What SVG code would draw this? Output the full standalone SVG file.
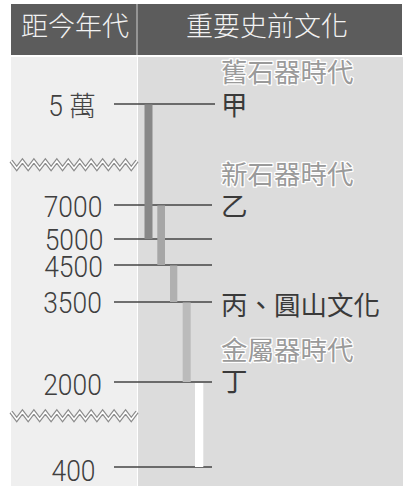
<svg xmlns="http://www.w3.org/2000/svg" width="406" height="486" viewBox="0 0 406 486">
<style>
.hdr{font-family:"Noto Sans CJK TC","Noto Sans CJK SC",sans-serif;font-size:27px;fill:#f2f2f2;font-weight:300}
.num{font-family:Roboto,"Liberation Sans",sans-serif;font-size:30px;font-weight:300;fill:#3f3f3f;text-anchor:middle}
.cjk{font-family:"Noto Sans CJK TC","Noto Sans CJK SC",sans-serif;font-size:26.5px;fill:#3a3a3a}
.era{font-family:"Noto Sans CJK TC","Noto Sans CJK SC",sans-serif;font-size:26.5px;fill:#9a9a9a;stroke:#fff;stroke-width:2.5;paint-order:stroke;stroke-linejoin:round}
.tick{stroke:#444;stroke-width:1.5;fill:none}
.zz1{fill:none;stroke:#8c8c8c;stroke-width:3.8;stroke-linejoin:miter}
.zz2{fill:none;stroke:#fff;stroke-width:1.5;stroke-linejoin:miter}
</style>
<defs>
<g id="zigzag">
<polyline class="zz1" points="11,161 16.73,168.5 22.45,161 28.18,168.5 33.91,161 39.64,168.5 45.36,161 51.09,168.5 56.82,161 62.55,168.5 68.27,161 74,168.5 79.73,161 85.45,168.5 91.18,161 96.91,168.5 102.64,161 108.36,168.5 114.09,161 119.82,168.5 125.55,161 131.27,168.5 137,161"/>
<polyline class="zz2" points="11,161 16.73,168.5 22.45,161 28.18,168.5 33.91,161 39.64,168.5 45.36,161 51.09,168.5 56.82,161 62.55,168.5 68.27,161 74,168.5 79.73,161 85.45,168.5 91.18,161 96.91,168.5 102.64,161 108.36,168.5 114.09,161 119.82,168.5 125.55,161 131.27,168.5 137,161"/>
</g>
</defs>
<rect width="406" height="486" fill="#fff"/>
<g id="panels">
<rect x="11" y="57" width="126" height="429" fill="#efefef"/>
<rect x="138" y="57" width="265" height="429" fill="#dcdcdc"/>
</g>
<g id="header">
<rect x="11" y="4" width="391" height="51" fill="#5c5c5c"/>
<line x1="137" y1="4" x2="137" y2="55" stroke="#a8a8a8" stroke-width="1.5"/>
<text class="hdr" x="75" y="36" text-anchor="middle">距今年代</text>
<text class="hdr" x="267" y="36" text-anchor="middle">重要史前文化</text>
</g>
<g id="breaks">
<use href="#zigzag"/>
<use href="#zigzag" transform="translate(0 251)"/>
</g>
<g id="connectors">
<line class="tick" x1="114" y1="104" x2="215" y2="104"/>
<line class="tick" x1="114" y1="205" x2="212" y2="205"/>
<line class="tick" x1="114" y1="239" x2="212" y2="239"/>
<line class="tick" x1="114" y1="265" x2="212" y2="265"/>
<line class="tick" x1="114" y1="302" x2="212" y2="302"/>
<line class="tick" x1="114" y1="382" x2="212" y2="382"/>
<line class="tick" x1="114" y1="467" x2="212" y2="467"/>
</g>
<g id="bars">
<rect x="144.5" y="104.5" width="8" height="134.5" fill="#888"/>
<rect x="157.3" y="205.5" width="7.7" height="59.5" fill="#a6a6a6"/>
<rect x="170" y="265.5" width="7.3" height="36.5" fill="#b0b0b0"/>
<rect x="182.7" y="302.5" width="8" height="79.5" fill="#bbbbbb"/>
<rect x="195" y="383" width="8.3" height="84" fill="#ffffff"/>
</g>
<g id="years">
<text class="num" transform="translate(55.5 116) scale(0.88 1)">5</text>
<text class="cjk" x="69" y="116" style="fill:#444;font-size:27px;font-weight:300">萬</text>
<text class="num" transform="translate(73 217) scale(0.88 1)">7000</text>
<text class="num" transform="translate(74 250) scale(0.88 1)">5000</text>
<text class="num" transform="translate(73.5 277) scale(0.88 1)">4500</text>
<text class="num" transform="translate(72.5 313) scale(0.88 1)">3500</text>
<text class="num" transform="translate(72.5 395) scale(0.88 1)">2000</text>
<text class="num" transform="translate(73.5 481) scale(0.88 1)">400</text>
</g>
<g id="eras">
<text class="era" x="221" y="82">舊石器時代</text>
<text class="era" x="221" y="184">新石器時代</text>
<text class="era" x="221" y="360">金屬器時代</text>
</g>
<g id="cultures">
<text class="cjk" x="221" y="115">甲</text>
<text class="cjk" x="221" y="216">乙</text>
<text class="cjk" x="221" y="315">丙、圓山文化</text>
<text class="cjk" x="221" y="391">丁</text>
</g>
</svg>
